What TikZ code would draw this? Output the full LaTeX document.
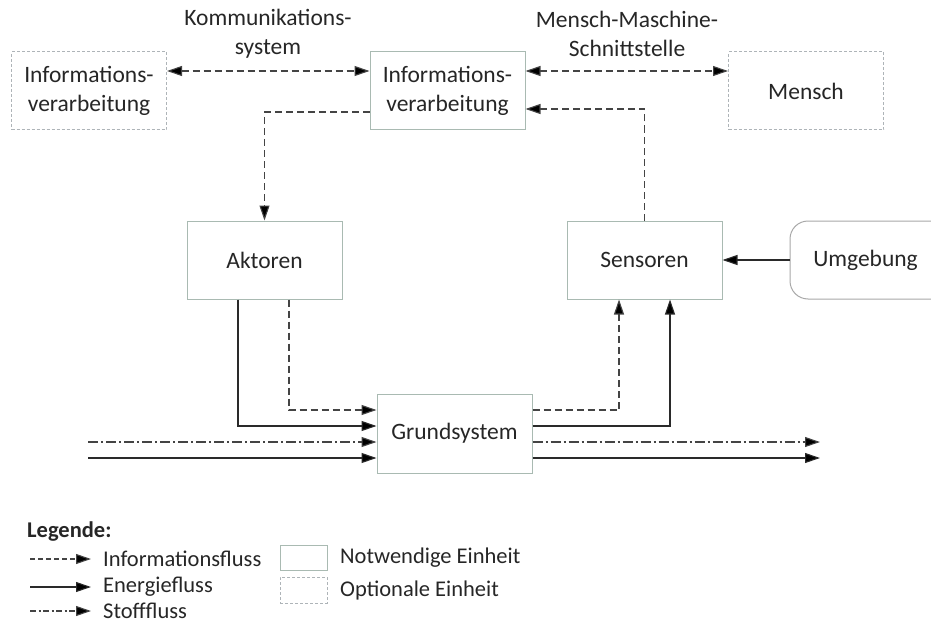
\documentclass[tikz,border=0pt]{standalone}
\usepackage{fontspec}
\setmainfont{Carlito}
\usetikzlibrary{arrows.meta}
\definecolor{boxgreen}{HTML}{A9BAB2}
\definecolor{optgray}{HTML}{AEB4B8}
\definecolor{envgray}{HTML}{A8A8A8}
\definecolor{linegray}{HTML}{2A2A2A}
\definecolor{dashgray}{HTML}{444444}
\begin{document}
\begin{tikzpicture}[x=1pt,y=-1pt,
  font=\fontsize{23.5}{29}\selectfont,
  tip/.tip={Triangle[length=15pt,width=10pt,fill=black]},
  unit/.style={draw=boxgreen, line width=1pt, minimum width=155pt,
    minimum height=78pt, align=center, inner sep=0pt, text=black!85},
  optunit/.style={unit, draw=optgray, dash pattern=on 3pt off 2pt},
  flow/.style={line width=1.1pt, draw=linegray, -tip},
  energy/.style={flow},
  info/.style={flow, draw=dashgray, dash pattern=on 7pt off 4pt},
  stoff/.style={flow, draw=dashgray, dash pattern=on 10pt off 3pt on 2pt off 3pt},
  lbl/.style={align=center, inner sep=0pt, text=black!85},
  legtext/.style={anchor=west, inner sep=0pt, text=black!85,
    font=\fontsize{22.5}{27}\selectfont}]
\useasboundingbox (0,0) rectangle (931,623);

% Units
\node[optunit] (ivl) at (89,91) {Informations-\\verarbeitung};
\node[unit] (iv) at (447.5,91) {Informations-\\verarbeitung};
\node[optunit] (mensch) at (806,91) {Mensch};
\node[unit] (akt) at (264.5,260) {Aktoren};
\node[unit] (sens) at (644.5,260) {Sensoren};
\node[unit, minimum height=79pt] (grund) at (454.5,433.5) {Grundsystem};

% Environment, open to the right
\draw[envgray, line width=1pt, rounded corners=18pt]
  (960,221) -- (790,221) -- (790,299) -- (960,299);
\coordinate (umg) at (790,260);
\node[lbl] (umgtext) at (865.5,260) {Umgebung};

% Interface labels
\node[lbl] (kom) at (268,34) {Kommunikations-\\system};
\node[lbl] (mms) at (627,34) {Mensch-Maschine-\\Schnittstelle};

% Information flows
\draw[info, tip-tip] ([yshift=20pt]ivl.east) -- ([yshift=20pt]iv.west);
\draw[info, tip-tip] ([yshift=20pt]iv.east) -- ([yshift=20pt]mensch.west);
\draw[info] ([yshift=-21pt]iv.west) -| (akt.north);
\draw[info] (sens.north) |- ([yshift=-18pt]iv.east);
\draw[info] ([xshift=24.5pt]akt.south) |- ([yshift=23.5pt]grund.west);
\draw[info] ([yshift=23.5pt]grund.east) -| ([xshift=-25.5pt]sens.south);

% Energy flows
\draw[energy] (umg) -- (sens.east);
\draw[energy] ([xshift=-26.5pt]akt.south) |- ([yshift=7.5pt]grund.west);
\draw[energy] ([yshift=7.5pt]grund.east) -| ([xshift=25.5pt]sens.south);

% Inputs and outputs of the basic system
\coordinate (inStoff) at (88,442);
\coordinate (inEnergie) at (88,458);
\coordinate (outStoff) at (820,442);
\coordinate (outEnergie) at (820,458);
\draw[stoff] (inStoff) -- (inStoff -| grund.west);
\draw[energy] (inEnergie) -- (inEnergie -| grund.west);
\draw[stoff] (outStoff -| grund.east) -- (outStoff);
\draw[energy] (outEnergie -| grund.east) -- (outEnergie);

% Legend
\node[legtext, font=\fontsize{22.5}{27}\selectfont\bfseries] (leg) at (27,532) {Legende:};
\coordinate (la1) at (30,559);
\coordinate (lb1) at (91,559);
\coordinate (la2) at (30,587);
\coordinate (lb2) at (91,587);
\coordinate (la3) at (30,611);
\coordinate (lb3) at (91,611);
\draw[info, dash pattern=on 5pt off 3pt] (la1) -- (lb1);
\draw[energy] (la2) -- (lb2);
\draw[stoff, dash pattern=on 6pt off 2.5pt on 2pt off 2.5pt] (la3) -- (lb3);
\node[legtext] (t1) at (103,559) {Informationsfluss};
\node[legtext] (t2) at (103,587) {Energiefluss};
\node[legtext] (t3) at (103,611) {Stofffluss};
\node[unit, minimum width=47pt, minimum height=25pt] (lu1) at (303.5,557.5) {};
\node[optunit, minimum width=47pt, minimum height=26pt] (lu2) at (303.5,590) {};
\node[legtext] (t4) at (340,558) {Notwendige Einheit};
\node[legtext] (t5) at (340,590) {Optionale Einheit};
\end{tikzpicture}
\end{document}
